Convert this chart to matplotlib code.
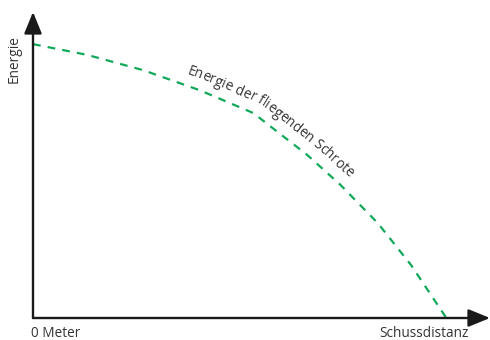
import numpy as np
import matplotlib
matplotlib.use('Agg')
import matplotlib.pyplot as plt
from matplotlib.transforms import IdentityTransform
from matplotlib.textpath import TextPath
from matplotlib.font_manager import FontProperties

plt.rcParams['font.family'] = ['Open Sans', 'DejaVu Sans']

# Schussdistanz (relative) und Energie (relative)
distance = [0, 13, 26.5, 40, 53, 66, 74, 83, 91, 99.5]
energy = [89.5, 86, 81, 74.5, 67, 53.3, 43.5, 31, 17.3, 0]

curve_label = 'Energie der fliegenden Schrote'
y_label = 'Energie'
x_start_label = '0 Meter'
x_end_label = 'Schussdistanz'

W, H = 490, 340
fig = plt.figure(figsize=(W / 100, H / 100), dpi=100)
ax = fig.add_axes([33 / W, 22 / H, 457 / W, 306 / H])
ax.set_xlim(0, 110)
ax.set_ylim(0, 100)
ax.axis('off')

green = '#12a85a'
ax.plot(distance, energy, color=green, lw=1.6, dashes=(3.5, 3.2), clip_on=False)

# Achsen mit Pfeilspitzen
arrow = dict(arrowstyle='-|>,head_length=1.1,head_width=0.45', color='#1a1a1a',
             lw=1.7, shrinkA=0, shrinkB=0, mutation_scale=12)
ax.annotate('', xy=(110, 0), xytext=(0, 0), arrowprops=arrow, annotation_clip=False)
ax.annotate('', xy=(0, 100), xytext=(0, 0), arrowprops=arrow, annotation_clip=False)

fs = 9.8
txt = dict(fontsize=fs, color='#333333')
fig.text(31 / W, 1 - 337 / H, x_start_label, ha='left', va='baseline', **txt)
fig.text(469 / W, 1 - 337 / H, x_end_label, ha='right', va='baseline', **txt)
fig.text(22 / W, 1 - 35 / H, y_label, rotation=90, ha='right', va='top', **txt)

# Beschriftung entlang der Kurve
pts = ax.transData.transform(np.column_stack([distance, energy]))
seg = np.diff(pts, axis=0)
seg_len = np.hypot(seg[:, 0], seg[:, 1])
cum = np.concatenate([[0], np.cumsum(seg_len)])


def point_at(s):
    i = np.clip(np.searchsorted(cum, s) - 1, 0, len(seg) - 1)
    f = (s - cum[i]) / seg_len[i]
    return pts[i] + f * seg[i]


fp = FontProperties(family=['Open Sans', 'DejaVu Sans'])
ref = TextPath((0, 0), 'l', size=fs, prop=fp).get_extents().x1


def width(s):
    x1 = TextPath((0, 0), s + 'l', size=fs, prop=fp).get_extents().x1
    return (x1 - ref) * 100 / 72


# offset path above the curve, smoothed normals
offset = 11
ss = np.linspace(0, cum[-1], 2000)
base = np.array([point_at(s) for s in ss])
tang = np.array([point_at(s + 18) - point_at(s - 18) for s in ss])
ang = np.arctan2(tang[:, 1], tang[:, 0])
normal = np.column_stack([-np.sin(ang), np.cos(ang)])
off = base + normal * offset
off_len = np.concatenate([[0], np.cumsum(np.hypot(*np.diff(off, axis=0).T))])

start_px = np.array([186, H - 74])
L0 = off_len[np.argmin(np.hypot(*(off - start_px).T))]

for i, ch in enumerate(curve_label):
    w0 = width(curve_label[:i])
    w1 = width(curve_label[:i + 1])
    L = L0 + (w0 + w1) / 2
    k = np.searchsorted(off_len, L)
    q = off[k]
    fig.text(q[0], q[1], ch, transform=IdentityTransform(), rotation=np.degrees(ang[k]),
             rotation_mode='anchor', ha='center', va='baseline', **txt)

fig.savefig('out.png', dpi=100)
